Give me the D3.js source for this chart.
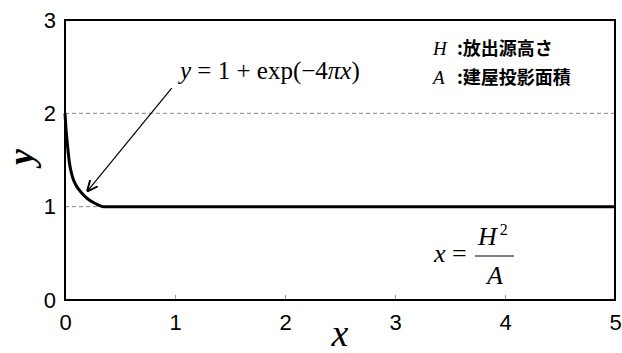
<!DOCTYPE html>
<html>
<head>
<meta charset="utf-8">
<script src="https://cdn.jsdelivr.net/npm/d3@7"></script>
<style>
  body { margin: 0; background: #fff; }
  svg { display: block; }
</style>
</head>
<body>
<svg></svg>
<script>
const WIDTH = 622;
const HEIGHT = 353;

// curve
const curveX = [0, 0.01, 0.02, 0.04, 0.07, 0.1, 0.15, 0.2, 0.25, 0.3, 0.35, 5];
const curveY = [2.0, 1.82, 1.69, 1.47, 1.31, 1.23, 1.15, 1.09, 1.05, 1.02, 1.0, 1.0];
const xTicks = [0, 1, 2, 3, 4, 5];
const yTicks = [0, 1, 2, 3];
const gridY = [1, 2];
const legendKeys = ['H', 'A'];
const legendTexts = ['放出源高さ', '建屋投影面積'];
// arrow from label to curve, in data units
const arrowFrom = [0.97, 2.27];
const arrowTo = [0.2, 1.16];

const margin = {top: 20, right: 7, bottom: 53, left: 65};
const w = WIDTH - margin.left - margin.right;
const h = HEIGHT - margin.top - margin.bottom;

const svg = d3.select('svg')
    .attr('width', WIDTH)
    .attr('height', HEIGHT);

const x = d3.scaleLinear().domain([0, 5]).range([0, w]);
const y = d3.scaleLinear().domain([0, 3]).range([h, 0]);

svg.append('defs').append('marker')
    .attr('id', 'arr')
    .attr('viewBox', '0 0 10 10')
    .attr('refX', 10).attr('refY', 5)
    .attr('markerWidth', 11).attr('markerHeight', 11)
    .attr('markerUnits', 'userSpaceOnUse')
    .attr('orient', 'auto')
  .append('path')
    .attr('d', 'M0,0.5 L10,5 L0,9.5')
    .attr('fill', 'none')
    .attr('stroke', '#000')
    .attr('stroke-width', 1.8);

const g = svg.append('g')
    .attr('transform', `translate(${margin.left},${margin.top})`);

// dashed grid
g.selectAll('.grid')
    .data(gridY)
  .enter().append('line')
    .attr('x1', 0).attr('x2', w)
    .attr('y1', (d) => y(d)).attr('y2', (d) => y(d))
    .attr('stroke', '#888')
    .attr('stroke-width', 1)
    .attr('stroke-dasharray', '4,3');

// bottom axis: inner ticks, labels below
const xAxis = g.append('g')
    .attr('transform', `translate(0,${h})`)
    .call(d3.axisBottom(x).tickValues(xTicks).tickSize(-5).tickPadding(14)
        .tickFormat(d3.format('d')));
xAxis.select('.domain').remove();
xAxis.selectAll('line').attr('stroke', '#999');
xAxis.selectAll('text')
    .attr('font-family', 'Liberation Sans, Arial, sans-serif')
    .attr('font-size', 22)
    .attr('fill', '#000');

const yAxis = g.append('g')
    .call(d3.axisLeft(y).tickValues(yTicks).tickSize(0).tickPadding(9)
        .tickFormat(d3.format('d')));
yAxis.select('.domain').remove();
yAxis.selectAll('text')
    .attr('font-family', 'Liberation Sans, Arial, sans-serif')
    .attr('font-size', 22)
    .attr('fill', '#000');

// frame
g.append('rect')
    .attr('width', w).attr('height', h)
    .attr('fill', 'none')
    .attr('stroke', '#000')
    .attr('stroke-width', 2);

// curve
const line = d3.line()
    .x((d) => x(d[0]))
    .y((d) => y(d[1]))
    .curve(d3.curveMonotoneX);
g.append('path')
    .datum(d3.zip(curveX, curveY))
    .attr('d', line)
    .attr('fill', 'none')
    .attr('stroke', '#000')
    .attr('stroke-width', 3);

// arrow
g.append('line')
    .attr('x1', x(arrowFrom[0])).attr('y1', y(arrowFrom[1]))
    .attr('x2', x(arrowTo[0])).attr('y2', y(arrowTo[1]))
    .attr('stroke', '#000')
    .attr('stroke-width', 1.2)
    .attr('marker-end', 'url(#arr)');

const serif = 'Liberation Serif, Times New Roman, serif';

// formula label
const f = svg.append('text')
    .attr('x', 180).attr('y', 79)
    .attr('font-family', serif)
    .attr('font-size', 25);
f.append('tspan').attr('font-style', 'italic').text('y');
f.append('tspan').text(' = 1 + exp(\u22124');
f.append('tspan').attr('font-style', 'italic').text('\u03c0x');
f.append('tspan').text(')');

// legend
const leg = svg.append('g');
leg.selectAll('.k')
    .data(legendKeys)
  .enter().append('text')
    .attr('x', 433).attr('y', (d, i) => 55 + i * 29)
    .attr('font-family', serif)
    .attr('font-style', 'italic')
    .attr('font-size', 19)
    .text((d) => d);
leg.selectAll('.v')
    .data(legendTexts)
  .enter().append('text')
    .attr('x', 457).attr('y', (d, i) => 55 + i * 29)
    .attr('font-family', 'Noto Sans CJK JP, sans-serif')
    .attr('font-weight', 600)
    .attr('font-size', 18)
    .text((d) => ':' + d);

// x = H^2 / A
const fr = svg.append('g').attr('font-family', serif).attr('font-size', 26);
fr.append('text').attr('x', 434).attr('y', 262).attr('font-style', 'italic').text('x');
fr.append('text').attr('x', 452).attr('y', 262).text('=');
const num = fr.append('text').attr('x', 478).attr('y', 245);
num.append('tspan').attr('font-style', 'italic').text('H');
num.append('tspan').attr('font-size', 16).attr('dy', -10).attr('dx', 3).text('2');
fr.append('line')
    .attr('x1', 475).attr('x2', 514).attr('y1', 256).attr('y2', 256)
    .attr('stroke', '#000').attr('stroke-width', 1.2);
fr.append('text').attr('x', 487).attr('y', 284).attr('font-style', 'italic').text('A');

// axis titles
svg.append('text')
    .attr('x', 340).attr('y', 346)
    .attr('text-anchor', 'middle')
    .attr('font-family', serif)
    .attr('font-style', 'italic')
    .attr('font-size', 38)
    .text('x');
svg.append('text')
    .attr('transform', 'translate(33,157) rotate(-90)')
    .attr('text-anchor', 'middle')
    .attr('font-family', serif)
    .attr('font-style', 'italic')
    .attr('font-weight', 'bold')
    .attr('font-size', 36)
    .text('y');
</script>
</body>
</html>
